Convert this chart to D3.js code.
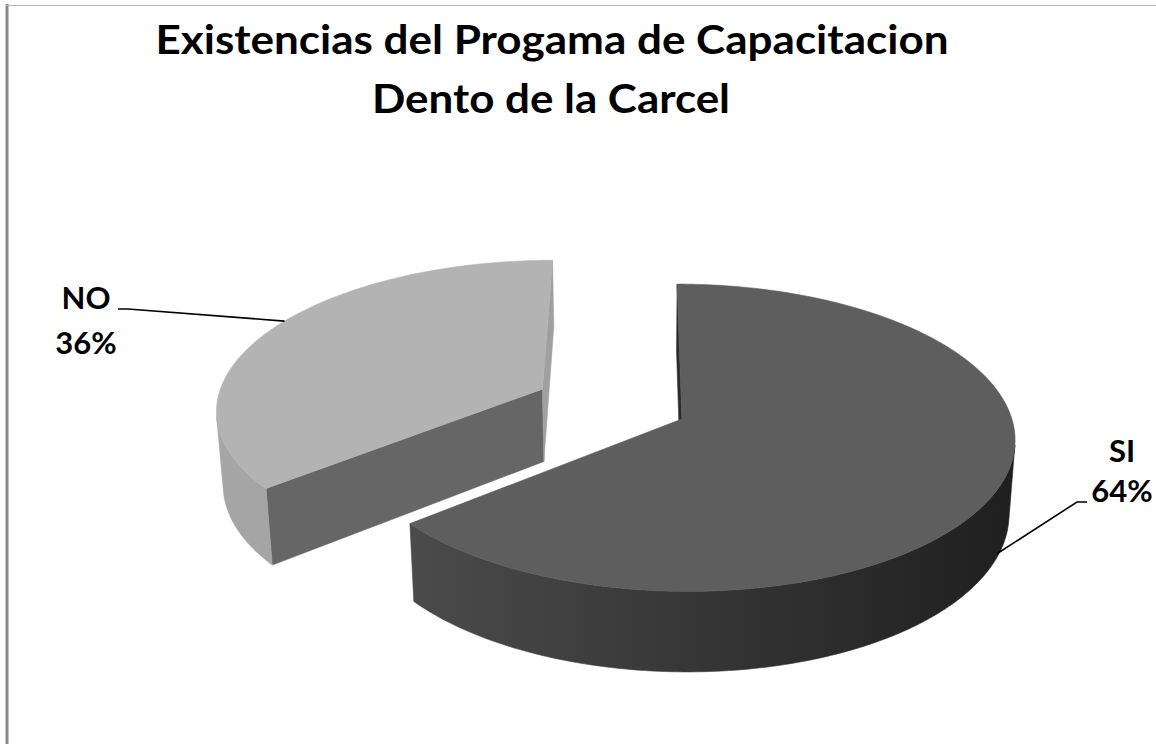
<!DOCTYPE html>
<html>
<head>
<meta charset="utf-8">
<script src="https://cdn.jsdelivr.net/npm/d3@7/dist/d3.min.js"></script>
<style>
  html, body { margin: 0; padding: 0; background: #fff; }
  svg { display: block; }
  text { font-family: Lato, "Open Sans", sans-serif; font-weight: bold; fill: #000; }
</style>
</head>
<body>
<svg id="chart" width="1156" height="744"></svg>
<script>
// ---- data ----
const categories = ["SI", "NO"];
const values = [64, 36];
const percentLabels = ["64%", "36%"];
const titleLines = ["Existencias del Progama de Capacitacion", "Dento de la Carcel"];

// ---- styles / layout ----
const topColors   = ["#5e5e5e", "#b3b3b3"];
const startFace   = ["#2b2b2b", "#666666"];
const endFace     = ["#2b2b2b", "#a0a0a0"];
const sideStops   = [["#4b4b4b", "#1f1f1f"], ["#a6a6a6", "#9c9c9c"]];
const explode     = [0, 0.475];

const W = 1156, H = 744;
const svg = d3.select("#chart");

// camera / projection parameters
const cam = { C: 638, Cy: 419, S: 330, e: 27.3 * Math.PI / 180, D: 7.29, Xc: -0.133 };
const thick = 0.255;
const cosE = Math.cos(cam.e), sinE = Math.sin(cam.e);
const camPos = [cam.Xc, cam.D * sinE, cam.D * cosE];

function proj(X, Y, Z) {
  const xc = X - cam.Xc;
  const yc = Y * cosE - Z * sinE;
  const zc = Z * cosE + Y * sinE;
  const k = cam.D / (cam.D - zc);
  return [cam.C + cam.S * xc * k, cam.Cy - cam.S * yc * k];
}
function visible(n, P) {
  const v = [camPos[0] - P[0], camPos[1] - P[1], camPos[2] - P[2]];
  return n[0] * v[0] + n[1] * v[1] + n[2] * v[2] > 0;
}

// frame lines
svg.append("line").attr("x1", 7).attr("x2", 7).attr("y1", 4).attr("y2", H)
  .attr("stroke", "#8a8a8a").attr("stroke-width", 3);
svg.append("line").attr("x1", 6).attr("x2", W).attr("y1", 5.5).attr("y2", 5.5)
  .attr("stroke", "#b4b4b4").attr("stroke-width", 1);

// title
const title = svg.append("g");
title.append("text").attr("x", 552).attr("y", 54).attr("text-anchor", "middle")
  .attr("font-size", 40).attr("textLength", 793).attr("lengthAdjust", "spacingAndGlyphs")
  .text(titleLines[0]);
title.append("text").attr("x", 551).attr("y", 113).attr("text-anchor", "middle")
  .attr("font-size", 40).attr("textLength", 358).attr("lengthAdjust", "spacingAndGlyphs")
  .text(titleLines[1]);

// pie
const pie = d3.pie().sort(null).value(d => d.value).startAngle(0).endAngle(2 * Math.PI);
const arcs = pie(categories.map((c, i) => ({ cat: c, value: values[i], label: percentLabels[i], i })));

const defs = svg.append("defs");
const line = d3.line();

arcs.forEach(a => {
  const i = a.data.i;
  const mid = (a.startAngle + a.endAngle) / 2;
  a.ox = explode[i] * Math.sin(mid);
  a.oz = -explode[i] * Math.cos(mid);
});

// draw far pieces first
const order = arcs.slice().sort((p, q) => p.oz - q.oz);

order.forEach(a => {
  const i = a.data.i;
  const { ox, oz } = a;
  const a0 = a.startAngle, a1 = a.endAngle;
  const rim = (t, Y) => proj(ox + Math.sin(t), Y, oz - Math.cos(t));
  const g = svg.append("g").attr("class", "slice-" + a.data.cat);

  const n = Math.max(8, Math.ceil((a1 - a0) / (Math.PI / 180)));
  const angles = d3.range(n + 1).map(j => a0 + (a1 - a0) * j / n);

  // gradient for the outer wall
  const gid = "side" + i;
  const xs = angles.map(t => rim(t, 0)[0]);
  const grad = defs.append("linearGradient").attr("id", gid)
    .attr("gradientUnits", "userSpaceOnUse")
    .attr("x1", d3.min(xs)).attr("x2", d3.max(xs)).attr("y1", 0).attr("y2", 0);
  grad.append("stop").attr("offset", 0).attr("stop-color", sideStops[i][0]);
  grad.append("stop").attr("offset", 1).attr("stop-color", sideStops[i][1]);

  // radial faces
  const faces = [
    { t: a0, nrm: a0 - Math.PI / 2, col: startFace[i] },
    { t: a1, nrm: a1 + Math.PI / 2, col: endFace[i] }
  ];
  faces.forEach(f => {
    const nv = [Math.sin(f.nrm), 0, -Math.cos(f.nrm)];
    const P = [ox + 0.5 * Math.sin(f.t), -thick / 2, oz - 0.5 * Math.cos(f.t)];
    if (!visible(nv, P)) return;
    const pts = [proj(ox, 0, oz), rim(f.t, 0), rim(f.t, -thick), proj(ox, -thick, oz)];
    g.append("path").attr("d", line(pts) + "Z").attr("fill", f.col)
      .attr("stroke", f.col).attr("stroke-width", 0.6);
  });

  // outer wall: contiguous visible runs
  let run = [];
  const runs = [];
  for (let j = 0; j < n; j++) {
    const am = (angles[j] + angles[j + 1]) / 2;
    const nv = [Math.sin(am), 0, -Math.cos(am)];
    const P = [ox + Math.sin(am), -thick / 2, oz - Math.cos(am)];
    if (visible(nv, P)) {
      if (!run.length) run.push(angles[j]);
      run.push(angles[j + 1]);
    } else if (run.length) { runs.push(run); run = []; }
  }
  if (run.length) runs.push(run);
  runs.forEach(r => {
    const pts = r.map(t => rim(t, 0)).concat(r.slice().reverse().map(t => rim(t, -thick)));
    g.append("path").attr("d", line(pts) + "Z").attr("fill", `url(#${gid})`)
      .attr("stroke", `url(#${gid})`).attr("stroke-width", 0.6);
  });

  // top face
  const topPts = [proj(ox, 0, oz)].concat(angles.map(t => rim(t, 0)));
  g.append("path").attr("d", line(topPts) + "Z").attr("fill", topColors[i])
    .attr("stroke", topColors[i]).attr("stroke-width", 0.6);

  a.rim = rim;
});

// labels with leader lines
const labelLayout = {
  SI: { x: 1122, y1: 462, y2: 502, elbow: [1087, 502], knee: [1077, 502], anchorT: 113 * Math.PI / 180, anchorY: -0.95 },
  NO: { x: 86, y1: 309, y2: 354, elbow: [118, 309], knee: [128, 309], anchorT: 300 * Math.PI / 180, anchorY: 0 }
};
arcs.forEach(a => {
  const L = labelLayout[a.data.cat];
  const anchor = a.rim(L.anchorT, L.anchorY * thick);
  svg.append("path").attr("d", line([L.elbow, L.knee, anchor]))
    .attr("fill", "none").attr("stroke", "#000").attr("stroke-width", 1.6);
  svg.append("text").attr("x", L.x).attr("y", L.y1).attr("text-anchor", "middle")
    .attr("font-size", 31).text(a.data.cat);
  svg.append("text").attr("x", L.x).attr("y", L.y2).attr("text-anchor", "middle")
    .attr("font-size", 31).text(a.data.label);
});
</script>
</body>
</html>
